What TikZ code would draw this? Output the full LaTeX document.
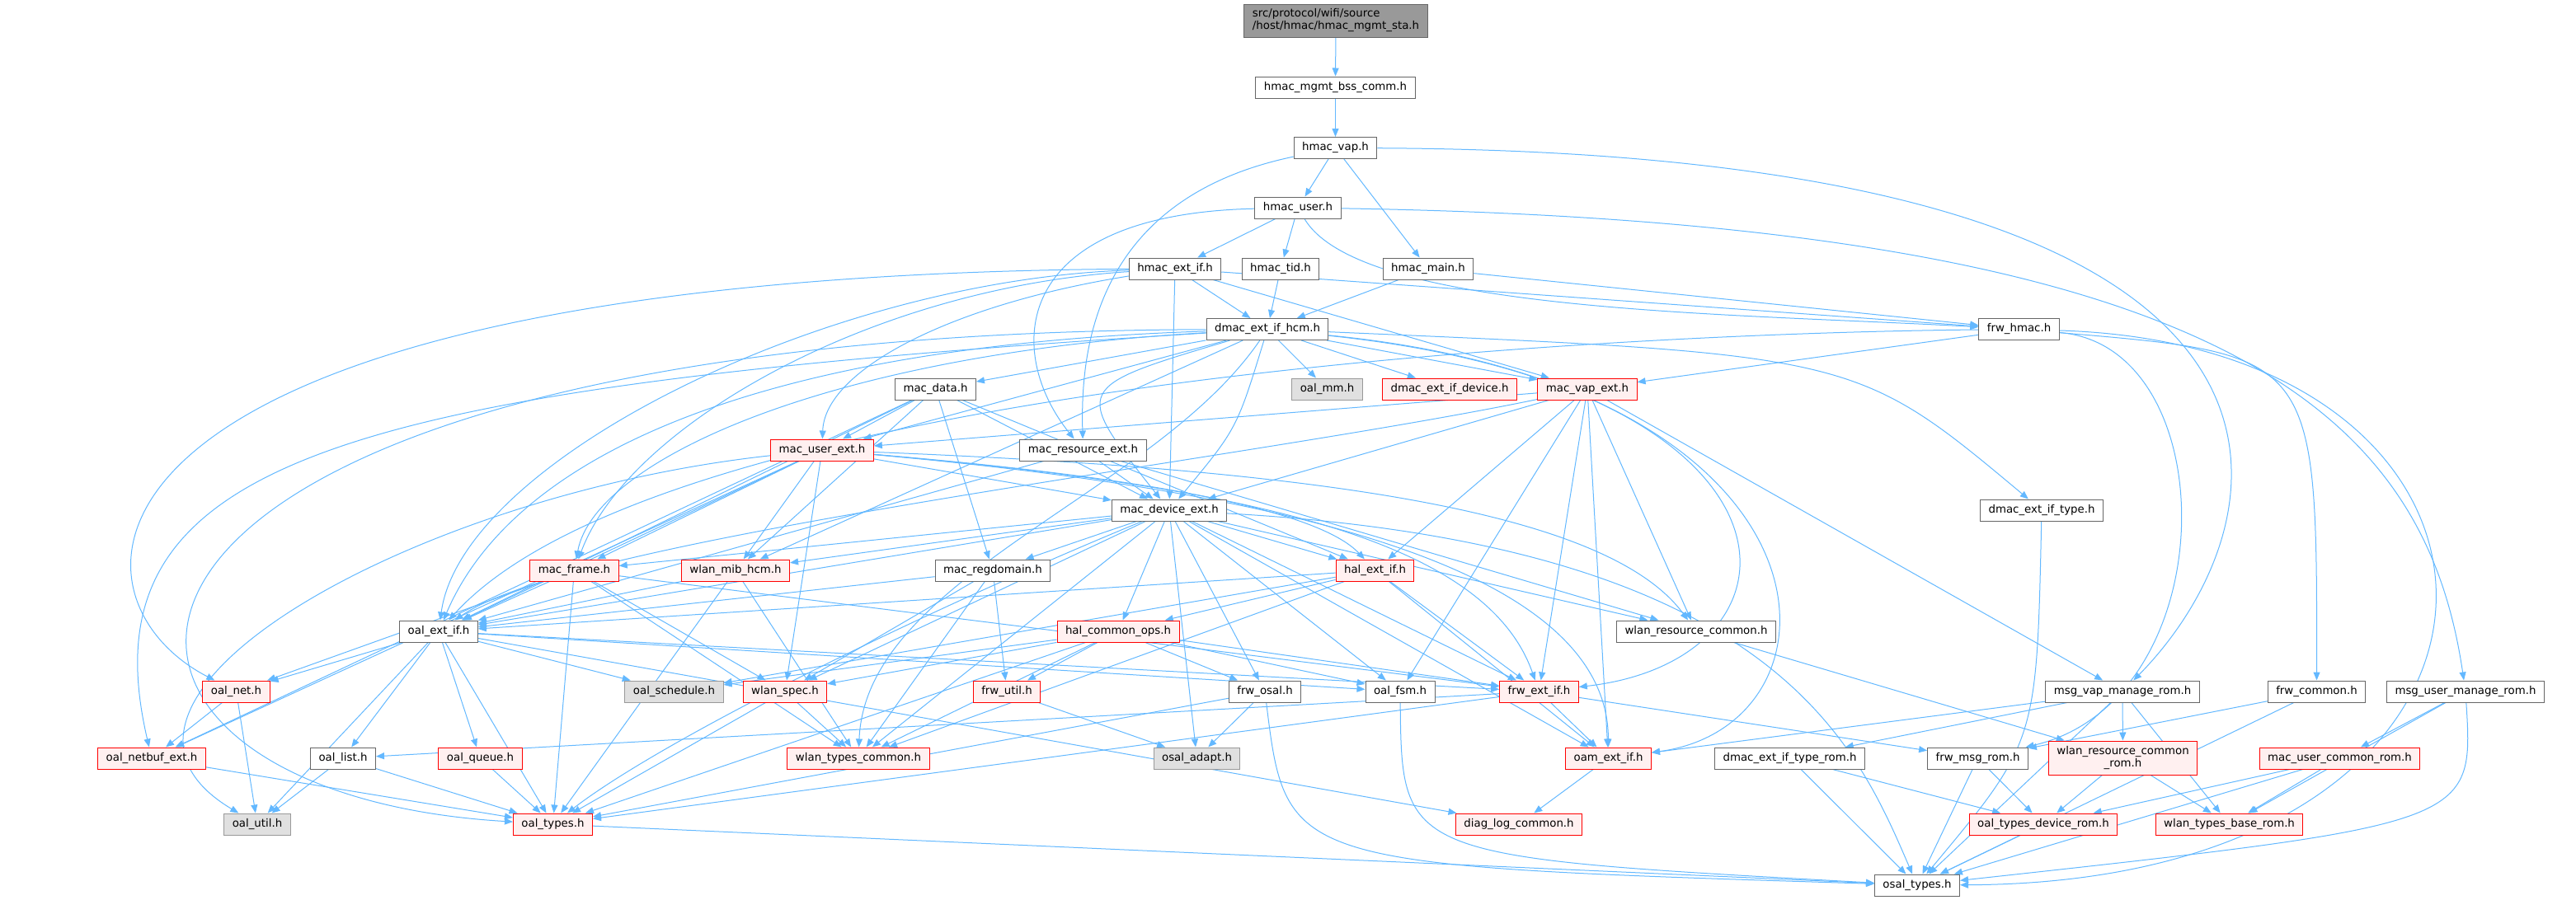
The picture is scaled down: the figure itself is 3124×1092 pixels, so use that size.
\documentclass[tikz,border=0pt]{standalone}
\usepackage{fontspec}
\setmainfont{DejaVu Sans}
\usepackage{xcolor}
\usetikzlibrary{arrows.meta}
\usetikzlibrary{backgrounds}
\definecolor{edgeblue}{HTML}{63B8FF}
\definecolor{boxline}{HTML}{666666}
\definecolor{undocfill}{HTML}{E0E0E0}
\definecolor{undocline}{HTML}{999999}
\definecolor{truncfill}{HTML}{FFF0F0}
\tikzset{box/.style={draw=boxline,fill=white,line width=0.75pt,inner xsep=7.5pt,inner ysep=0pt,
   minimum height=19.5pt,font=\fontsize{10}{11.25}\selectfont},
 redbox/.style={box,draw=red,fill=truncfill},
 greybox/.style={box,draw=undocline,fill=undocfill},
 rootbox/.style={box,fill=undocline,minimum height=30pt,align=left},
 dep/.style={color=edgeblue,line width=0.75pt,-{Triangle[length=7.5pt,width=6pt]}},
 every edge/.style={draw,color=edgeblue},
 }

\begin{document}
\begin{tikzpicture}[x=0.75pt,y=-0.75pt]
        \useasboundingbox (0,0) rectangle (3124,1092);
        % top chain
        \node[rootbox] (root) at (1620,25) {src/protocol/wifi/source\\/host/hmac/hmac\_mgmt\_sta.h};
        \node[box] (bss) at (1619.5,106) {hmac\_mgmt\_bss\_comm.h};
        \node[box] (hvap) at (1619.5,179.5) {hmac\_vap.h};
        \node[box] (huser) at (1574,252) {hmac\_user.h};
        \node[box] (hextif) at (1425,326) {hmac\_ext\_if.h};
        \node[box] (htid) at (1553,326) {hmac\_tid.h};
        \node[box] (hmain) at (1732,326) {hmac\_main.h};
        \node[box] (dhcm) at (1537,399.5) {dmac\_ext\_if\_hcm.h};
        \node[box] (frwhmac) at (2448.5,399.5) {frw\_hmac.h};
        % mac layer
        \node[box] (mdata) at (1134.5,472) {mac\_data.h};
        \node[greybox] (oalmm) at (1609.5,472) {oal\_mm.h};
        \node[redbox] (ddevice) at (1758,472) {dmac\_ext\_if\_device.h};
        \node[redbox] (mvapext) at (1925,472) {mac\_vap\_ext.h};
        \node[redbox] (muserext) at (997,546) {mac\_user\_ext.h};
        \node[box] (mresource) at (1313.5,546) {mac\_resource\_ext.h};
        \node[box] (mdevext) at (1418,619) {mac\_device\_ext.h};
        \node[box] (dtype) at (2476,619) {dmac\_ext\_if\_type.h};
        \node[redbox] (mframe) at (696.5,692) {mac\_frame.h};
        \node[redbox] (wlanmib) at (892,692) {wlan\_mib\_hcm.h};
        \node[box] (mregdomain) at (1204,692) {mac\_regdomain.h};
        \node[redbox] (halext) at (1667.5,692) {hal\_ext\_if.h};
        \node[box] (oalext) at (532,766) {oal\_ext\_if.h};
        \node[redbox] (halcommon) at (1356,766) {hal\_common\_ops.h};
        \node[box] (wlanres) at (2057,766) {wlan\_resource\_common.h};
        % lower rows
        \node[redbox] (oalnet) at (286.5,839) {oal\_net.h};
        \node[greybox] (oalschedule) at (817.5,839) {oal\_schedule.h};
        \node[redbox] (wlanspec) at (952,839) {wlan\_spec.h};
        \node[redbox] (frwutil) at (1221,839) {frw\_util.h};
        \node[box] (frwosal) at (1534,839) {frw\_osal.h};
        \node[box] (oalfsm) at (1698,839) {oal\_fsm.h};
        \node[redbox] (frwext) at (1866.5,839) {frw\_ext\_if.h};
        \node[box] (msgvap) at (2574,839) {msg\_vap\_manage\_rom.h};
        \node[box] (frwcommon) at (2809.5,839) {frw\_common.h};
        \node[box] (msguser) at (2990,839) {msg\_user\_manage\_rom.h};
        \node[redbox] (oalnetbuf) at (184,920) {oal\_netbuf\_ext.h};
        \node[box] (oallist) at (416,920) {oal\_list.h};
        \node[redbox] (oalqueue) at (582.5,920) {oal\_queue.h};
        \node[redbox] (wlantypes) at (1041,920) {wlan\_types\_common.h};
        \node[greybox] (osaladapt) at (1451.5,920) {osal\_adapt.h};
        \node[redbox] (oamext) at (1950.5,920) {oam\_ext\_if.h};
        \node[box] (dtyperom) at (2170.5,920) {dmac\_ext\_if\_type\_rom.h};
        \node[box] (frwmsg) at (2398.5,920) {frw\_msg\_rom.h};
        \node[redbox,minimum height=30.75pt,align=center] (wlanresrom) at (2574.5,919.5) {wlan\_resource\_common\\\_rom.h};
        \node[redbox] (mucommonrom) at (2837.5,920) {mac\_user\_common\_rom.h};
        \node[greybox] (oalutil) at (312,1000) {oal\_util.h};
        \node[redbox] (oaltypes) at (670.5,1000) {oal\_types.h};
        \node[redbox] (diaglog) at (1842,1000) {diag\_log\_common.h};
        \node[redbox] (oaltypesdevrom) at (2478,1000) {oal\_types\_device\_rom.h};
        \node[redbox] (wlanbaserom) at (2703.5,1000) {wlan\_types\_base\_rom.h};
        \node[box] (osaltypes) at (2325,1074) {osal\_types.h};

        \begin{scope}[on background layer]
        \draw[dep] (root) edge (bss) (bss) edge (hvap);
        \draw[dep] (hvap) edge (huser) edge (hmain);
        \draw[dep] (hvap) .. controls (1330,240) and (1310,420) .. (mresource);
        \draw[dep] (hvap) .. controls (2900,185) and (2770,640) .. (msgvap);
        \draw[dep] (huser) edge (hextif) edge (htid);
        \draw[dep] (huser) .. controls (1650,380) and (2100,380) .. (frwhmac);
        \draw[dep] (huser) .. controls (1220,260) and (1220,430) .. (mresource);
        \draw[dep] (huser) .. controls (2700,270) and (2940,500) .. (msguser);
        \draw[dep] (hextif) edge (dhcm) edge (frwhmac) edge (mvapext) edge (mdevext);
        \draw[dep] (hextif) .. controls (1150,370) and (1000,450) .. (muserext);
        \draw[dep] (hextif) .. controls (1050,350) and (760,520) .. (mframe);
        \draw[dep] (hextif) .. controls (1000,340) and (560,560) .. (oalext);
        \draw[dep] (hextif) .. controls (60,335) and (56,720) .. (oalnet);
        \draw[dep] (htid) edge (dhcm);
        \draw[dep] (hmain) edge (dhcm) edge (frwhmac);
        \draw[dep] (dhcm) edge (mdata) edge (oalmm) edge (ddevice) edge (mvapext)
                   edge (muserext) edge (wlanmib);
        \draw[dep] (dhcm) .. controls (900,420) and (620,560) .. (oalext);
        \draw[dep] (dhcm) .. controls (1000,430) and (720,560) .. (mframe);
        \draw[dep] (dhcm) .. controls (1400,600) and (1050,700) .. (wlantypes);
        \draw[dep] (dhcm) .. controls (1500,520) .. (mdevext);
        \draw[dep] (dhcm) .. controls (1300,470) .. (mdevext);
        \draw[dep] (dhcm) .. controls (0,405) and (0,960) .. (oaltypes);
        \draw[dep] (dhcm) .. controls (400,470) and (100,560) .. (oalnetbuf);
        \draw[dep] (dhcm) .. controls (2250,430) .. (dtype);
        \draw[dep] (dhcm) .. controls (2210,470) and (2210,800) .. (frwext);
        \draw[dep] (dhcm) .. controls (2250,470) and (2250,880) .. (oamext);
        \draw[dep] (frwhmac) edge (mvapext);
        \draw[dep] (frwhmac) .. controls (1900,405) and (800,470) .. (oalext);
        \draw[dep] (frwhmac) .. controls (2700,420) and (2700,850) .. (frwmsg);
        \draw[dep] (frwhmac) .. controls (2810,430) .. (frwcommon);
        \draw[dep] (frwhmac) .. controls (3124,420) and (3124,1070) .. (osaltypes);
        \draw[dep] (mdata) edge (muserext) edge (mdevext) edge (mregdomain) edge (halext)
                   edge (oalext) edge (wlanmib) edge (oalnetbuf);
        \draw[dep] (mvapext) edge (muserext) edge (mdevext) edge (halext) edge (oalfsm)
                   edge (msgvap) edge (oamext) edge (frwext) edge (wlanres);
        \draw[dep] (mvapext) .. controls (1500,560) and (700,650) .. (oalext);
        \draw[dep] (muserext) edge (mframe) edge (wlanmib) edge (oalext) edge (mdevext)
                   edge (wlanspec) edge (oalnetbuf);
        \draw[dep] (muserext) .. controls (1400,580) and (1600,620) .. (halext);
        \draw[dep] (muserext) .. controls (1500,590) and (1800,650) .. (frwext);
        \draw[dep] (muserext) .. controls (1600,570) and (1950,620) .. (wlanres);
        \draw[dep] (muserext) .. controls (1600,600) and (1950,700) .. (oamext);
        \draw[dep] (muserext) .. controls (500,600) and (60,850) .. (oalutil);
        \draw[dep] (mresource) edge (mdevext) edge (oalext) edge (wlanres);
        \draw[dep] (dtype) .. controls (2470,900) .. (osaltypes);
        \draw[dep] (mdevext) edge (mframe) edge (wlanmib) edge (mregdomain) edge (halext)
                   edge (oalext) edge (halcommon) edge (wlanspec) edge (wlantypes) edge (osaladapt)
                   edge (frwosal) edge (oalfsm) edge (frwext) edge (oamext) edge (wlanres);
        \draw[dep] (mdevext) .. controls (1100,750) and (800,900) .. (oaltypes);
        \draw[dep] (mdevext) .. controls (2150,660) and (2250,900) .. (osaltypes);
        \draw[dep] (mframe) edge (oalext) edge (oalnet) edge (oaltypes) edge (wlantypes)
                   edge (frwext) edge (wlanspec);
        \draw[dep] (wlanmib) edge (oalext) edge (wlantypes) edge (oaltypes);
        \draw[dep] (mregdomain) edge (wlanspec) edge (wlantypes) edge (frwutil) edge (oalext);
        \draw[dep] (halext) edge (oalext) edge (halcommon) edge (frwext) edge (oamext)
                   edge (wlantypes) edge (oalschedule);
        \draw[dep] (oalext) edge (oalnet) edge (oalutil) edge (oallist) edge (oalqueue)
                   edge (oaltypes) edge (oalschedule) edge (oalfsm) edge (frwext) edge (diaglog);
        \draw[dep] (halcommon) edge (wlanspec) edge (frwutil) edge (frwosal) edge (oalfsm)
                   edge (frwext) edge (wlantypes) edge (oaltypes) edge (oalschedule);
        \draw[dep] (wlanres) edge (wlanresrom);
        \draw[dep] (oalnet) edge (oalnetbuf) edge (oalutil);
        \draw[dep] (wlanspec) edge (wlantypes) edge (oaltypes);
        \draw[dep] (frwutil) edge (osaladapt);
        \draw[dep] (frwosal) edge (osaladapt) edge (oaltypes);
        \draw[dep] (frwosal) .. controls (1560,1050) .. (osaltypes);
        \draw[dep] (oalfsm) .. controls (1700,1040) .. (osaltypes);
        \draw[dep] (frwext) edge (oallist) edge (oamext) edge (oaltypes) edge (frwmsg);
        \draw[dep] (msgvap) edge (dtyperom) edge (wlanresrom) edge (wlanbaserom) edge (oamext)
                   edge (osaltypes);
        \draw[dep] (frwcommon) edge (frwmsg) edge (osaltypes);
        \draw[dep] (msguser) edge (mucommonrom) edge (wlanbaserom);
        \draw[dep] (msguser) .. controls (3000,1000) .. (osaltypes);
        \draw[dep] (oalnetbuf) edge (oaltypes);
        \draw[dep] (oallist) edge (oalutil) edge (oaltypes);
        \draw[dep] (oalqueue) edge (oaltypes);
        \draw[dep] (oamext) edge (diaglog);
        \draw[dep] (dtyperom) edge (oaltypesdevrom) edge (osaltypes);
        \draw[dep] (frwmsg) edge (oaltypesdevrom) edge (osaltypes);
        \draw[dep] (wlanresrom) edge (oaltypesdevrom) edge (wlanbaserom);
        \draw[dep] (mucommonrom) edge (oaltypesdevrom) edge (wlanbaserom) edge (osaltypes);
        \draw[dep] (oaltypesdevrom) edge (osaltypes);
        \draw[dep] (oaltypes) edge (osaltypes);
        \end{scope}
    \end{tikzpicture}
\end{document}
